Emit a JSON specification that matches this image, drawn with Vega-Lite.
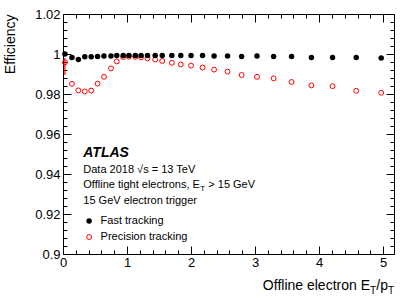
{
  "$schema": "https://vega.github.io/schema/vega-lite/v6.json",
  "width": 331,
  "height": 240,
  "autosize": {"type": "none"},
  "padding": {"left": 63, "top": 14, "right": 21, "bottom": 44},
  "background": "white",
  "datasets": {
    "effs": [
      {"series": "Fast tracking", "x": 0.03, "eff": 1.0},
      {"series": "Fast tracking", "x": 0.14, "eff": 0.9983},
      {"series": "Fast tracking", "x": 0.24, "eff": 0.9973},
      {"series": "Fast tracking", "x": 0.34, "eff": 0.9986},
      {"series": "Fast tracking", "x": 0.44, "eff": 0.9986},
      {"series": "Fast tracking", "x": 0.54, "eff": 0.9987},
      {"series": "Fast tracking", "x": 0.64, "eff": 0.999},
      {"series": "Fast tracking", "x": 0.75, "eff": 0.999},
      {"series": "Fast tracking", "x": 0.84, "eff": 0.9993},
      {"series": "Fast tracking", "x": 0.94, "eff": 0.9993},
      {"series": "Fast tracking", "x": 1.03, "eff": 0.9993},
      {"series": "Fast tracking", "x": 1.13, "eff": 0.9993},
      {"series": "Fast tracking", "x": 1.22, "eff": 0.9993},
      {"series": "Fast tracking", "x": 1.32, "eff": 0.9993},
      {"series": "Fast tracking", "x": 1.44, "eff": 0.9993},
      {"series": "Fast tracking", "x": 1.55, "eff": 0.9993},
      {"series": "Fast tracking", "x": 1.70, "eff": 0.9993},
      {"series": "Fast tracking", "x": 1.84, "eff": 0.9993},
      {"series": "Fast tracking", "x": 2.00, "eff": 0.9993},
      {"series": "Fast tracking", "x": 2.18, "eff": 0.9993},
      {"series": "Fast tracking", "x": 2.36, "eff": 0.999},
      {"series": "Fast tracking", "x": 2.57, "eff": 0.999},
      {"series": "Fast tracking", "x": 2.79, "eff": 0.9987},
      {"series": "Fast tracking", "x": 3.03, "eff": 0.999},
      {"series": "Fast tracking", "x": 3.29, "eff": 0.9987},
      {"series": "Fast tracking", "x": 3.57, "eff": 0.9987},
      {"series": "Fast tracking", "x": 3.88, "eff": 0.9983},
      {"series": "Fast tracking", "x": 4.21, "eff": 0.9983},
      {"series": "Fast tracking", "x": 4.58, "eff": 0.9982},
      {"series": "Fast tracking", "x": 4.97, "eff": 0.998},
      {"series": "Precision tracking", "x": 0.03, "eff": 0.9958, "lo": 0.9895, "hi": 0.998},
      {"series": "Precision tracking", "x": 0.14, "eff": 0.9851},
      {"series": "Precision tracking", "x": 0.24, "eff": 0.9818},
      {"series": "Precision tracking", "x": 0.34, "eff": 0.9813},
      {"series": "Precision tracking", "x": 0.44, "eff": 0.9817},
      {"series": "Precision tracking", "x": 0.54, "eff": 0.9852},
      {"series": "Precision tracking", "x": 0.64, "eff": 0.9886},
      {"series": "Precision tracking", "x": 0.75, "eff": 0.9928},
      {"series": "Precision tracking", "x": 0.84, "eff": 0.9963},
      {"series": "Precision tracking", "x": 0.94, "eff": 0.9985},
      {"series": "Precision tracking", "x": 1.03, "eff": 0.9987},
      {"series": "Precision tracking", "x": 1.13, "eff": 0.9986},
      {"series": "Precision tracking", "x": 1.22, "eff": 0.9983},
      {"series": "Precision tracking", "x": 1.32, "eff": 0.9978},
      {"series": "Precision tracking", "x": 1.44, "eff": 0.9972},
      {"series": "Precision tracking", "x": 1.55, "eff": 0.9965},
      {"series": "Precision tracking", "x": 1.70, "eff": 0.9956},
      {"series": "Precision tracking", "x": 1.84, "eff": 0.9948},
      {"series": "Precision tracking", "x": 2.00, "eff": 0.9942},
      {"series": "Precision tracking", "x": 2.18, "eff": 0.9932},
      {"series": "Precision tracking", "x": 2.36, "eff": 0.9922},
      {"series": "Precision tracking", "x": 2.57, "eff": 0.9912},
      {"series": "Precision tracking", "x": 2.79, "eff": 0.9895},
      {"series": "Precision tracking", "x": 3.03, "eff": 0.9886},
      {"series": "Precision tracking", "x": 3.29, "eff": 0.9878},
      {"series": "Precision tracking", "x": 3.57, "eff": 0.986},
      {"series": "Precision tracking", "x": 3.88, "eff": 0.9843},
      {"series": "Precision tracking", "x": 4.21, "eff": 0.9839},
      {"series": "Precision tracking", "x": 4.58, "eff": 0.9816},
      {"series": "Precision tracking", "x": 4.97, "eff": 0.9806}
    ],
    "one": [{}]
  },
  "data": {"name": "effs"},
  "layer": [
    {
      "transform": [{"filter": "isValid(datum.lo)"}],
      "mark": {"type": "rule", "color": "#ff0000", "strokeWidth": 1.2},
      "encoding": {
        "x": {"field": "x", "type": "quantitative", "axis": null},
        "y": {"field": "lo", "type": "quantitative", "axis": null},
        "y2": {"field": "hi"}
      }
    },
    {
      "transform": [{"filter": "datum.series === 'Precision tracking'"}],
      "mark": {"type": "point", "shape": "circle", "filled": false, "size": 24, "strokeWidth": 1, "opacity": 1},
      "encoding": {
        "x": {
          "field": "x", "type": "quantitative",
          "scale": {"domain": [0, 5.17], "nice": false, "zero": false},
          "axis": {
            "orient": "top", "title": null, "labels": false,
            "values": [0,0.2,0.4,0.6,0.8,1,1.2,1.4,1.6,1.8,2,2.2,2.4,2.6,2.8,3,3.2,3.4,3.6,3.8,4,4.2,4.4,4.6,4.8,5],
            "tickSize": {"condition": {"test": "abs(datum.value - round(datum.value)) < 0.001", "value": -8}, "value": -4}
          }
        },
        "y": {
          "field": "eff", "type": "quantitative",
          "scale": {"domain": [0.9, 1.02], "nice": false, "zero": false},
          "axis": {
            "orient": "right", "title": null, "labels": false,
            "values": [0.9,0.904,0.908,0.912,0.916,0.92,0.924,0.928,0.932,0.936,0.94,0.944,0.948,0.952,0.956,0.96,0.964,0.968,0.972,0.976,0.98,0.984,0.988,0.992,0.996,1,1.004,1.008,1.012,1.016,1.02],
            "tickSize": {"condition": {"test": "abs(datum.value*50 - round(datum.value*50)) < 0.01", "value": -8}, "value": -4}
          }
        },
        "stroke": {
          "field": "series", "type": "nominal",
          "scale": {"domain": ["Precision tracking"], "range": ["#ff0000"]},
          "legend": {
            "orient": "none", "legendX": 20.6, "legendY": 217.5, "title": null,
            "padding": 0, "symbolSize": 24, "symbolType": "circle", "symbolStrokeWidth": 1,
            "labelFont": "Liberation Sans", "labelFontSize": 11, "labelColor": "black", "labelOffset": 6
          }
        }
      }
    },
    {
      "transform": [{"filter": "datum.series === 'Fast tracking'"}],
      "mark": {"type": "point", "shape": "circle", "filled": true, "size": 30, "opacity": 1},
      "encoding": {
        "x": {
          "field": "x", "type": "quantitative",
          "axis": {
            "orient": "bottom", "title": null,
            "values": [0,0.2,0.4,0.6,0.8,1,1.2,1.4,1.6,1.8,2,2.2,2.4,2.6,2.8,3,3.2,3.4,3.6,3.8,4,4.2,4.4,4.6,4.8,5],
            "tickSize": {"condition": {"test": "abs(datum.value - round(datum.value)) < 0.001", "value": -8}, "value": -4},
            "labelExpr": "abs(datum.value - round(datum.value)) < 0.001 ? format(datum.value, 'd') : ''",
            "labelPadding": 10, "labelFlush": false, "labelOverlap": false
          }
        },
        "y": {
          "field": "eff", "type": "quantitative",
          "axis": {
            "orient": "left", "title": "Efficiency",
            "values": [0.9,0.904,0.908,0.912,0.916,0.92,0.924,0.928,0.932,0.936,0.94,0.944,0.948,0.952,0.956,0.96,0.964,0.968,0.972,0.976,0.98,0.984,0.988,0.992,0.996,1,1.004,1.008,1.012,1.016,1.02],
            "tickSize": {"condition": {"test": "abs(datum.value*50 - round(datum.value*50)) < 0.01", "value": -8}, "value": -4},
            "labelExpr": "abs(datum.value*50 - round(datum.value*50)) < 0.01 ? format(datum.value, '.2~f') : ''",
            "labelPadding": 11, "labelFlush": false, "labelOverlap": false,
            "titleX": -53, "titleY": 0, "titleAlign": "right", "titleBaseline": "middle", "titleAngle": 270
          }
        },
        "fill": {
          "field": "series", "type": "nominal",
          "scale": {"domain": ["Fast tracking"], "range": ["#000000"]},
          "legend": {
            "orient": "none", "legendX": 20.6, "legendY": 201.5, "title": null,
            "padding": 0, "symbolSize": 30, "symbolType": "circle", "symbolStrokeWidth": 0,
            "labelFont": "Liberation Sans", "labelFontSize": 11, "labelColor": "black", "labelOffset": 6
          }
        }
      }
    },
    {
      "data": {"name": "one"},
      "mark": {"type": "text", "text": "ATLAS", "font": "Liberation Sans", "fontSize": 14, "fontWeight": "bold", "fontStyle": "italic", "align": "left", "baseline": "alphabetic", "color": "black"},
      "encoding": {"x": {"datum": 0.317, "type": "quantitative", "axis": null}, "y": {"datum": 0.94835, "type": "quantitative", "axis": null}}
    },
    {
      "data": {"name": "one"},
      "mark": {"type": "text", "text": "Data 2018 √s = 13 TeV", "font": "Liberation Sans", "fontSize": 11, "align": "left", "baseline": "alphabetic", "color": "black"},
      "encoding": {"x": {"datum": 0.317, "type": "quantitative", "axis": null}, "y": {"datum": 0.94035, "type": "quantitative", "axis": null}}
    },
    {
      "data": {"name": "one"},
      "mark": {"type": "text", "text": "Offline tight electrons, E", "font": "Liberation Sans", "fontSize": 11, "align": "left", "baseline": "alphabetic", "color": "black"},
      "encoding": {"x": {"datum": 0.317, "type": "quantitative", "axis": null}, "y": {"datum": 0.93285, "type": "quantitative", "axis": null}}
    },
    {
      "data": {"name": "one"},
      "mark": {"type": "text", "text": "T", "font": "Liberation Sans", "fontSize": 8, "align": "left", "baseline": "alphabetic", "color": "black", "dx": 117, "dy": 3},
      "encoding": {"x": {"datum": 0.317, "type": "quantitative", "axis": null}, "y": {"datum": 0.93285, "type": "quantitative", "axis": null}}
    },
    {
      "data": {"name": "one"},
      "mark": {"type": "text", "text": "> 15 GeV", "font": "Liberation Sans", "fontSize": 11, "align": "left", "baseline": "alphabetic", "color": "black", "dx": 125},
      "encoding": {"x": {"datum": 0.317, "type": "quantitative", "axis": null}, "y": {"datum": 0.93285, "type": "quantitative", "axis": null}}
    },
    {
      "data": {"name": "one"},
      "mark": {"type": "text", "text": "15 GeV electron trigger", "font": "Liberation Sans", "fontSize": 11, "align": "left", "baseline": "alphabetic", "color": "black"},
      "encoding": {"x": {"datum": 0.317, "type": "quantitative", "axis": null}, "y": {"datum": 0.925, "type": "quantitative", "axis": null}}
    },
    {
      "data": {"name": "one"},
      "mark": {"type": "text", "text": "T", "font": "Liberation Sans", "fontSize": 10, "align": "right", "baseline": "alphabetic", "color": "black", "dx": 0, "dy": 4},
      "encoding": {"x": {"datum": 5.17, "type": "quantitative", "axis": null}, "y": {"datum": 0.882, "type": "quantitative", "axis": null}}
    },
    {
      "data": {"name": "one"},
      "mark": {"type": "text", "text": "/p", "font": "Liberation Sans", "fontSize": 14, "align": "right", "baseline": "alphabetic", "color": "black", "dx": -6},
      "encoding": {"x": {"datum": 5.17, "type": "quantitative", "axis": null}, "y": {"datum": 0.882, "type": "quantitative", "axis": null}}
    },
    {
      "data": {"name": "one"},
      "mark": {"type": "text", "text": "T", "font": "Liberation Sans", "fontSize": 10, "align": "right", "baseline": "alphabetic", "color": "black", "dx": -18, "dy": 4},
      "encoding": {"x": {"datum": 5.17, "type": "quantitative", "axis": null}, "y": {"datum": 0.882, "type": "quantitative", "axis": null}}
    },
    {
      "data": {"name": "one"},
      "mark": {"type": "text", "text": "Offline electron E", "font": "Liberation Sans", "fontSize": 14, "align": "right", "baseline": "alphabetic", "color": "black", "dx": -24},
      "encoding": {"x": {"datum": 5.17, "type": "quantitative", "axis": null}, "y": {"datum": 0.882, "type": "quantitative", "axis": null}}
    }
  ],
  "resolve": {"axis": {"x": "independent", "y": "independent"}},
  "config": {
    "view": {"stroke": "#000000", "strokeWidth": 1},
    "axis": {
      "domain": false, "grid": false,
      "labelFont": "Liberation Sans", "labelFontSize": 13, "labelColor": "#000000",
      "tickColor": "#000000", "tickWidth": 1,
      "titleFont": "Liberation Sans", "titleFontSize": 14, "titleFontWeight": "normal", "titleColor": "#000000"
    }
  }
}
